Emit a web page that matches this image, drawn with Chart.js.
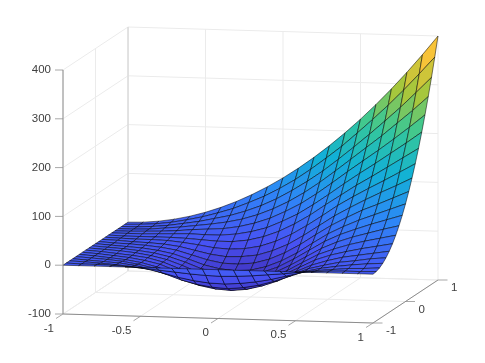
<!DOCTYPE html>
<html>
<head>
<meta charset="utf-8">
<script src="https://cdn.jsdelivr.net/npm/chart.js@4"></script>
<style>
  html, body { margin: 0; padding: 0; background: #fff; }
  canvas { display: block; }
</style>
</head>
<body>
<canvas id="surfChart" width="485" height="363"></canvas>
<script>
// tick labels
const xTicks = [-1, -0.5, 0, 0.5, 1];
const yTicks = [-1, 0, 1];
const zTicks = [-100, 0, 100, 200, 300, 400];
const xTickLabels = ["-1", "-0.5", "0", "0.5", "1"];
const yTickLabels = ["-1", "0", "1"];
const zTickLabels = ["-100", "0", "100", "200", "300", "400"];

// grid positions of the surface, same for both directions
const gridX = [-1, -0.9, -0.8, -0.7, -0.6, -0.5, -0.4, -0.3, -0.2, -0.1, 0, 0.1, 0.2, 0.3, 0.4, 0.5, 0.6, 0.7, 0.8, 0.9, 1];
const gridY = [-1, -0.9, -0.8, -0.7, -0.6, -0.5, -0.4, -0.3, -0.2, -0.1, 0, 0.1, 0.2, 0.3, 0.4, 0.5, 0.6, 0.7, 0.8, 0.9, 1];

// z values, one row per y
const zRow00 = [0, 0, 0, 0, 0, 0, 0, 0, 0, 0, 0, 0, 0, 0, 0, 0, 0, 0, 0, 0, 0];
const zRow01 = [0, -1, -1, -2, -4, -6, -9, -12, -15, -17, -18, -17, -15, -12, -9, -5, -3, -1, 0, 0, 1];
const zRow02 = [0, -1, -3, -5, -8, -12, -19, -27, -33, -37, -38, -36, -32, -26, -18, -10, -5, -2, 1, 2, 4];
const zRow03 = [0, -2, -4, -6, -10, -17, -26, -37, -45, -50, -52, -49, -43, -34, -23, -12, -5, 0, 4, 7, 9];
const zRow04 = [0, -2, -4, -7, -12, -19, -31, -43, -52, -58, -60, -57, -49, -38, -24, -11, -3, 4, 8, 13, 16];
const zRow05 = [0, -2, -5, -8, -13, -21, -32, -45, -55, -61, -63, -59, -50, -38, -22, -8, 2, 10, 15, 20, 25];
const zRow06 = [0, -2, -5, -8, -13, -20, -32, -45, -55, -61, -62, -57, -48, -34, -18, -2, 9, 17, 24, 30, 36];
const zRow07 = [0, -2, -5, -8, -12, -20, -32, -44, -54, -59, -60, -54, -44, -30, -12, 5, 17, 27, 35, 42, 49];
const zRow08 = [0, -2, -4, -7, -12, -19, -30, -43, -52, -56, -56, -50, -39, -23, -5, 13, 27, 38, 47, 56, 64];
const zRow09 = [0, -2, -4, -7, -11, -18, -28, -40, -48, -52, -51, -44, -32, -15, 4, 23, 38, 50, 61, 71, 81];
const zRow10 = [0, -2, -4, -6, -10, -16, -26, -37, -44, -47, -45, -37, -24, -7, 14, 34, 50, 64, 76, 88, 100];
const zRow11 = [0, -2, -3, -5, -8, -13, -22, -31, -37, -38, -35, -26, -12, 6, 27, 47, 64, 80, 93, 107, 121];
const zRow12 = [0, -1, -3, -4, -6, -10, -17, -24, -28, -27, -23, -13, 1, 20, 41, 62, 80, 97, 113, 128, 144];
const zRow13 = [0, -1, -2, -2, -3, -6, -10, -15, -17, -15, -9, 2, 17, 36, 57, 79, 98, 116, 133, 151, 169];
const zRow14 = [0, -1, -1, -1, -1, -2, -4, -6, -6, -2, 6, 18, 34, 53, 75, 96, 117, 136, 156, 176, 196];
const zRow15 = [0, 0, 0, 1, 2, 3, 2, 2, 5, 11, 20, 34, 50, 70, 92, 115, 137, 158, 180, 202, 225];
const zRow16 = [0, 0, 1, 2, 4, 7, 9, 11, 16, 24, 35, 50, 67, 88, 111, 135, 158, 181, 205, 230, 256];
const zRow17 = [0, 0, 1, 4, 7, 11, 15, 20, 27, 37, 50, 66, 85, 107, 131, 156, 181, 206, 233, 260, 289];
const zRow18 = [0, 0, 2, 5, 10, 15, 22, 29, 39, 51, 66, 84, 104, 126, 151, 177, 204, 232, 261, 292, 324];
const zRow19 = [0, 1, 3, 7, 13, 20, 29, 39, 52, 66, 83, 102, 124, 148, 173, 201, 230, 260, 292, 326, 361];
const zRow20 = [0, 1, 4, 9, 16, 25, 36, 49, 64, 81, 100, 121, 144, 169, 196, 225, 256, 289, 324, 361, 400];

const zRows = [zRow00, zRow01, zRow02, zRow03, zRow04, zRow05, zRow06, zRow07, zRow08, zRow09, zRow10,
  zRow11, zRow12, zRow13, zRow14, zRow15, zRow16, zRow17, zRow18, zRow19, zRow20];

const parula = [
  [62, 38, 168], [72, 82, 244], [46, 135, 247], [18, 177, 214],
  [55, 200, 151], [171, 199, 57], [254, 195, 56], [249, 251, 21]
];

// 3d box to chart plane, chart scales are set up 1:1 with the canvas
function project(x, y, z) {
  return {
    x: 63 + (x + 1) * 155 + (y + 1) * 32.5,
    y: 314 + (x + 1) * 4.5 - (y + 1) * 21.5 - (z + 100) * 0.488
  };
}

function colorFor(z) {
  const zMin = -80, zMax = 400;
  const t = Math.min(0.9999, Math.max(0, (z - zMin) / (zMax - zMin))) * (parula.length - 1);
  const i = Math.floor(t), f = t - i;
  const c = parula[i].map((v, k) => Math.round(v + (parula[i + 1][k] - v) * f));
  return `rgb(${c[0]},${c[1]},${c[2]})`;
}

function lineSet(a, b, color, width) {
  return {
    data: [project(...a), project(...b)],
    showLine: true, pointRadius: 0, borderColor: color, borderWidth: width, fill: false
  };
}

const datasets = [];
const axisColor = "#8c8c8c";
const gridColor = "#ebebeb";

// axes and ticks go first, chart.js paints the first dataset last
datasets.push(lineSet([-1, -1, -100], [-1, -1, 400], axisColor, 1));
datasets.push(lineSet([-1, -1, -100], [1, -1, -100], axisColor, 1));
datasets.push(lineSet([1, -1, -100], [1, 1, -100], axisColor, 1));
zTicks.forEach((z) => {
  const p = project(-1, -1, z);
  datasets.push({ data: [{ x: p.x - 8, y: p.y }, p], showLine: true, pointRadius: 0, borderColor: "#a8a8a8", borderWidth: 1 });
});
xTicks.forEach((x) => {
  const p = project(x, -1, -100);
  datasets.push({ data: [p, { x: p.x - 7, y: p.y + 4.5 }], showLine: true, pointRadius: 0, borderColor: "#a8a8a8", borderWidth: 1 });
});
yTicks.forEach((y) => {
  const p = project(1, y, -100);
  datasets.push({ data: [p, { x: p.x + 9.5, y: p.y }], showLine: true, pointRadius: 0, borderColor: "#a8a8a8", borderWidth: 1 });
});

// surface, nearest cell first
for (let j = 0; j < gridY.length - 1; j++) {
  for (let i = gridX.length - 2; i >= 0; i--) {
    const p1 = project(gridX[i], gridY[j], zRows[j][i]);
    const p2 = project(gridX[i + 1], gridY[j], zRows[j][i + 1]);
    const p3 = project(gridX[i + 1], gridY[j + 1], zRows[j + 1][i + 1]);
    const p4 = project(gridX[i], gridY[j + 1], zRows[j + 1][i]);
    datasets.push({
      data: [p1, p2, p3, p4, p1],
      showLine: true, pointRadius: 0, tension: 0,
      borderColor: "rgba(0,0,0,0.85)", borderWidth: 0.6,
      backgroundColor: colorFor(zRows[j][i]),
      fill: "shape"
    });
  }
}

// walls
datasets.push(lineSet([-1, 1, -100], [-1, 1, 400], "#d4d4d4", 1));
zTicks.forEach((z) => {
  datasets.push(lineSet([-1, -1, z], [-1, 1, z], gridColor, 1));
  datasets.push(lineSet([-1, 1, z], [1, 1, z], gridColor, 1));
});
xTicks.forEach((x) => {
  datasets.push(lineSet([x, 1, -100], [x, 1, 400], gridColor, 1));
  datasets.push(lineSet([x, -1, -100], [x, 1, -100], gridColor, 1));
});
yTicks.forEach((y) => {
  datasets.push(lineSet([-1, y, -100], [-1, y, 400], gridColor, 1));
  datasets.push(lineSet([-1, y, -100], [1, y, -100], gridColor, 1));
});

const tickLabelPlugin = {
  id: "tickLabels",
  afterDraw(chart) {
    const { ctx, scales } = chart;
    const toPx = (p) => ({ x: scales.x.getPixelForValue(p.x), y: scales.y.getPixelForValue(p.y) });
    ctx.save();
    ctx.font = '11.5px "Liberation Sans"';
    ctx.fillStyle = "#404040";
    ctx.textBaseline = "middle";
    ctx.textAlign = "right";
    zTicks.forEach((z, i) => {
      const p = toPx(project(-1, -1, z));
      ctx.fillText(zTickLabels[i], p.x - 12, p.y);
    });
    xTicks.forEach((x, i) => {
      const p = toPx(project(x, -1, -100));
      ctx.fillText(xTickLabels[i], p.x - 9, p.y + 14.5);
    });
    ctx.textAlign = "left";
    yTicks.forEach((y, i) => {
      const p = toPx(project(1, y, -100));
      ctx.fillText(yTickLabels[i], p.x + 13, p.y + 8);
    });
    ctx.restore();
  }
};

new Chart(document.getElementById("surfChart"), {
  type: "scatter",
  data: { datasets },
  options: {
    responsive: false,
    animation: false,
    layout: { padding: 0 },
    events: [],
    plugins: { legend: { display: false }, tooltip: { enabled: false } },
    scales: {
      x: { type: "linear", min: 0, max: 485, display: false },
      y: { type: "linear", min: 0, max: 363, reverse: true, display: false }
    }
  },
  plugins: [tickLabelPlugin]
});
</script>
</body>
</html>
